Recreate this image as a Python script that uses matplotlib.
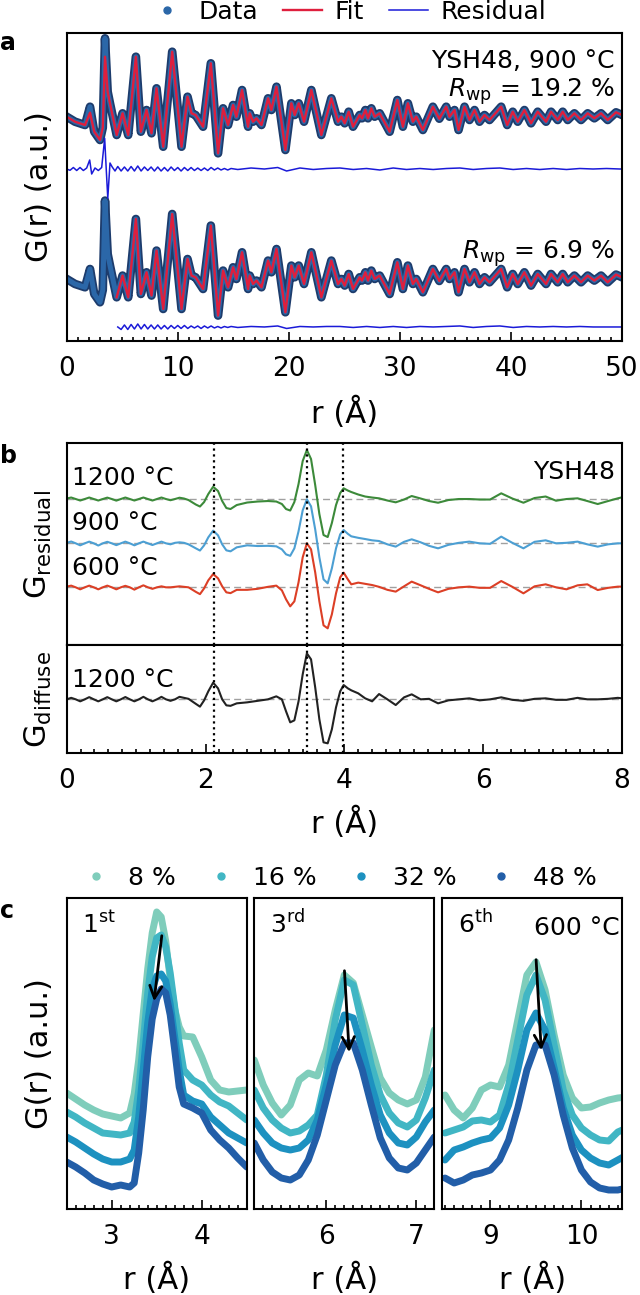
import matplotlib.pyplot as plt
import numpy as np
from matplotlib.lines import Line2D

plt.rcParams['font.family'] = 'DejaVu Sans'
plt.rcParams['mathtext.fontset'] = 'dejavusans'

# ---------------- panel a : YSH48, 900 C, full-range fits ----------------
r_a = [0.0, 0.75, 1.65, 2.1, 2.48, 3.0, 3.25, 3.45, 3.69, 3.9, 4.5, 5.03, 5.54, 6.23, 6.68, 7.19, 7.64,
       8.09, 8.69, 9.5, 10.34, 10.88, 11.24, 11.6, 12.28, 12.98, 13.63, 14.08, 14.53, 14.98, 15.28,
       15.79, 16.33, 16.48, 16.78, 17.09, 17.54, 18.13, 18.43, 18.89, 19.69, 20.23, 20.53, 20.89,
       21.37, 22.03, 22.93, 23.83, 24.43, 24.73, 25.03, 25.39, 25.78, 26.38, 26.59, 26.89, 27.13,
       27.43, 27.73, 28.18, 29.08, 29.77, 30.27, 30.72, 31.17, 31.47, 32.07, 32.97, 33.55, 34.17,
       34.47, 34.92, 35.28, 35.82, 36.27, 36.72, 37.17, 37.62, 38.07, 39.12, 39.66, 40.16, 40.61,
       41.21, 41.81, 42.41, 43.16, 43.61, 44.21, 44.66, 45.11, 45.71, 46.31, 46.91, 47.51, 48.11,
       48.71, 49.46, 50.0]
G_a = [-0.1, -0.6, -0.93, 0.9, -1.6, -2.43, -1.2, 7.74, 2.4, 1.24, -1.93, 0.24, -1.93, 5.9, -1.6,
       0.57, -1.76, 2.74, -3.1, 6.4, -3.1, 1.9, 0.24, 0.07, -1.1, 5.24, -3.76, 0.74, -0.93, 1.07,
       -0.1, 2.57, -1.1, 0.24, -0.6, -0.26, -0.93, 1.74, 0.57, 2.9, -3.43, 1.24, 0.07, 1.24, -0.6,
       2.57, -1.93, 1.74, -0.6, -0.1, -0.76, 0.4, -1.1, 0.07, -0.26, 0.57, -0.26, 0.74, -0.1, 0.24,
       -1.6, 1.57, -1.1, 1.24, -0.6, -0.1, -1.43, 0.9, -0.3, 0.9, -0.1, 0.57, -1.43, 0.9, -0.43,
       0.57, -0.6, 0.07, -0.43, 0.9, -0.93, 0.4, -0.6, 0.57, -0.76, 0.4, -0.6, 0.4, -0.43, 0.4,
       -0.43, 0.24, -0.43, 0.24, -0.26, 0.24, -0.43, 0.34, 0.07]
# where the top fit departs from the data
fit_fix_r = [2.1, 3.45]
fit_fix_G = [0.3, 5.9]
fit_start_bot = 4.5

r_res = [0.0, 0.3, 0.6, 0.9, 1.2, 1.5, 1.8, 2.07, 2.25, 2.55, 2.85, 3.15, 3.42, 3.56, 3.7, 3.9, 4.1,
         4.35, 4.6, 4.9, 5.2, 5.5, 5.8, 6.1, 6.4, 6.7, 7.0, 7.3, 7.6, 7.9, 8.2, 8.5, 8.8, 9.1, 9.4,
         9.7, 10.0, 10.3, 10.6, 10.9, 11.2, 11.5, 11.8, 12.1, 12.4, 12.7, 13.0, 13.3, 13.6, 13.9,
         14.2, 14.5, 14.8, 15.4, 16.6, 17.8, 19.0, 19.8, 21.0, 22.2, 23.4, 24.6, 25.8, 27.0, 28.2,
         29.4, 30.6, 31.8, 33.0, 34.2, 35.4, 36.6, 37.8, 39.0, 40.2, 41.4, 42.6, 43.8, 45.0, 46.2,
         47.4, 48.6, 49.8, 50.0]
res_top = [0.0, -0.13, 0.15, -0.15, 0.15, -0.15, 0.1, 0.9, -0.5, 0.1, -0.15, 0.15, 3.07, 0.0, -2.93,
           0.6, 0.2, -0.2, 0.25, -0.2, 0.2, -0.2, 0.25, -0.2, 0.3, -0.2, 0.2, -0.15, 0.2, -0.2, 0.2,
           -0.2, 0.15, -0.2, 0.2, -0.15, 0.15, -0.2, 0.15, -0.15, 0.15, -0.15, 0.1, -0.15, 0.1,
           -0.15, 0.15, -0.1, 0.1, -0.1, 0.05, -0.1, 0.05, -0.05, 0.1, 0.0, 0.15, -0.2, 0.1, -0.05,
           0.05, 0.1, -0.05, 0.05, -0.1, 0.1, -0.05, 0.05, -0.05, 0.05, 0.1, -0.05, 0.05, 0.1, -0.05,
           0.05, -0.05, 0.05, -0.05, 0.05, 0.0, 0.05, 0.0, 0.0]
nan = np.nan
res_bot = [nan] * 18 + [0.0, -0.25, 0.2, -0.25, 0.25, -0.2, 0.3, -0.2, 0.25, -0.2, 0.2, -0.2, 0.2,
                        -0.2, 0.15, -0.2, 0.15, -0.15, 0.15, -0.15, 0.15, -0.15, 0.1, -0.1, 0.1,
                        -0.15, 0.1, -0.1, 0.1, -0.1, 0.05, -0.1, 0.05, -0.05, 0.05, -0.05, 0.05,
                        0.0, 0.1, -0.15, 0.05, 0.0, 0.05, 0.05, -0.05, 0.05, -0.05, 0.05, -0.05,
                        0.05, 0.0, 0.05, 0.1, -0.05, 0.05, 0.1, -0.05, 0.05, 0.0, 0.05, 0.0, 0.05,
                        0.0, 0.0, 0.0, 0.0]

# ---------------- panel b : residual / diffuse G(r) ----------------
r_b = ([0.0, 0.065, 0.13, 0.195, 0.26, 0.325, 0.39, 0.455, 0.52, 0.585, 0.65, 0.715, 0.78, 0.845,
        0.91, 0.975, 1.04, 1.105, 1.17, 1.235, 1.3, 1.365, 1.43, 1.495, 1.56, 1.625, 1.69, 1.755]
       + [1.86, 1.92, 1.98, 2.04, 2.11, 2.18, 2.24, 2.3, 2.36, 2.45, 2.6, 2.75, 2.9, 3.02, 3.1, 3.16,
          3.22, 3.28, 3.34, 3.4, 3.46, 3.52, 3.58, 3.64, 3.7, 3.76, 3.82, 3.88, 3.94, 3.99, 4.05, 4.1]
       + [4.2, 4.3, 4.4, 4.5, 4.62, 4.74, 4.86, 4.97, 5.1, 5.22, 5.35, 5.5, 5.65, 5.8, 5.95, 6.1,
          6.26, 6.42, 6.58, 6.74, 6.9, 7.05, 7.2, 7.36, 7.5, 7.65, 7.8, 7.94, 8.0])
res_1200 = ([0.5, 1.5, 0, -1.5, 0, 1.5, 0, -1.5, 0, 1.4, 0, -1.6, 0, 1.5, 0, -1.5, 0, 1.5, 0, -1.5,
             0, 1.5, 0, -1.2, 0, 1.3, 0.5, -1.0]
            + [-5.5, -7.5, -3, 5, 12.3, 8, -2, -9, -10, -6, -3.5, -2.5, -2, -2.5, -5, -10, -11.5, -3,
               15, 38, 49, 40, 14, -15, -36, -38, -24, -6, 6, 10.7, 8.5, 7]
            + [4.5, 2.5, 1.5, 0.7, -1.5, -3.3, -0.5, 3.0, 0.5, -2.0, -3.7, -1.0, 0.0, 0.0, -0.5, -0.5,
               5.7, 0.5, -3.7, 1.0, 2.5, -1.7, 0.0, 0.7, -2.0, -5.0, -2.0, 0.7, 1.7])
res_900 = ([0.5, 1.8, 0, -2.0, 0, 1.7, 0, -2.2, 0, 1.5, 0, -1.8, 0, 1.7, 0, -2.0, 0, 1.7, 0, -1.7,
            0, 1.7, 0, -1.0, 0.5, 1.0, 0.5, -1.0]
           + [-5, -7.2, -2, 6, 12.7, 8, -1, -7, -8, -4, -2, -2.7, -2.5, -3, -6, -11, -12.5, -5, 12,
              33, 44, 37, 14, -14, -36, -40, -25, -5, 9, 13.3, 9.5, 7]
           + [5.5, 4.3, 3.0, 2.3, -1.0, -3.3, 1.5, 4.0, 1.0, -2.5, -5.0, -1.5, 0.5, 1.7, 0.0, -0.5,
              6.7, 0.5, -5.0, 1.5, 3.0, 0.0, 0.5, 1.7, -1.0, -3.3, -1.0, 0.0, 0.0])
res_600 = ([0.7, 1.7, 0, -2.0, 0, 1.7, 0, -2.0, 0, 1.7, 0, -2.0, 0, 1.5, 0, -2.3, 0, 2.0, 0, -1.5,
            0, 1.0, 0, 0.0, 0.5, 1.0, 0.5, 0.0]
           + [-4.5, -6.8, -1, 7, 13.3, 9, 1, -5, -5.8, -2.5, -2.5, -1.5, 0.5, 1.7, -3, -12, -19, -14,
              5, 30, 44, 38, 15, -14, -38, -41, -27, -6, 10, 14.7, 8, 3]
           + [4.7, 3.5, 2.3, 0.5, -2.5, -4.3, 1.0, 5.7, 2.0, -1.5, -5.0, -1.5, 0.0, 0.7, -0.5, -0.5,
              6.3, 0.5, -6.0, 1.0, 3.0, 0.0, -2.0, 2.0, 3.0, -2.7, -0.5, 0.7, 0.7])
diff_1200 = ([0, 1.5, 0, -2.0, 0, 2.2, 0, -2.0, 0, 2.2, 0, -2.0, 0, 2.3, 0, -2.0, 0, 2.5, 0, -2.0,
              0, 2.5, 0, -1.5, 0, 2.5, 1.5, 0.5]
             + [-4.5, -7.3, -1, 8, 16.7, 11, 0, -6, -6.5, -4, -3, -1.5, 0, 3.0, 0, -12, -23, -21,
                -2, 25, 46, 40, 12, -20, -43, -44, -30, -8, 8, 14.3, 11, 9]
             + [6.0, 1.0, -2.0, 5.3, 0.0, -5.7, 2.0, 5.0, 0.0, 0.5, -4.0, -1.0, 0.0, 1.0, -1.0, 0.0,
                2.0, -0.5, -1.5, 0.5, 1.0, -0.5, -0.5, 1.5, 0.0, 0.0, 0.5, 1.5, 1.0])
guide_r = [2.12, 3.46, 3.98]

# ---------------- panel c : first, third, sixth shell vs. Sc content ----------------
conc_labels = ['8 %', '16 %', '32 %', '48 %']
conc_colors = ['#7fcdbb', '#41b6c4', '#1d91c0', '#225ea8']

r_c1 = [2.5, 2.6, 2.7, 2.8, 2.9, 3.0, 3.1, 3.2, 3.25, 3.3, 3.35, 3.4, 3.45, 3.5, 3.55, 3.6, 3.65,
        3.7, 3.75, 3.8, 3.9, 4.0, 4.1, 4.2, 4.3, 4.4, 4.5]
c1 = [
    [11.6, 11.0, 10.4, 9.9, 9.5, 9.3, 9.1, 9.6, 11.5, 14.9, 19.5, 24.0, 27.6, 29.7, 29.2, 26.8, 23.0,
     20.0, 18.2, 17.3, 17.2, 15.2, 12.9, 11.9, 11.7, 11.8, 11.9],
    [9.7, 9.2, 8.6, 8.1, 7.6, 7.5, 7.4, 7.6, 8.7, 11.9, 16.6, 21.6, 25.2, 27.1, 27.4, 26.2, 23.6,
     20.2, 16.6, 13.9, 12.9, 12.4, 11.4, 10.7, 10.3, 9.6, 8.9],
    [7.2, 6.7, 6.1, 5.5, 5.0, 4.7, 4.7, 5.0, 5.9, 9.2, 13.9, 18.6, 22.0, 23.3, 23.5, 22.8, 20.5,
     17.2, 13.9, 11.4, 10.8, 10.5, 9.2, 8.4, 7.6, 7.1, 6.6],
    [4.7, 4.2, 3.6, 2.9, 2.5, 2.2, 2.4, 2.2, 2.6, 5.6, 9.9, 15.2, 19.0, 21.0, 22.0, 21.6, 19.4,
     15.9, 12.2, 10.5, 10.1, 9.6, 7.9, 6.9, 6.1, 5.1, 4.2],
]
r_c2 = [5.2, 5.3, 5.4, 5.5, 5.6, 5.7, 5.8, 5.9, 6.0, 6.1, 6.2, 6.3, 6.4, 6.5, 6.6, 6.7, 6.8, 6.9,
        7.0, 7.1, 7.2]
c2 = [
    [14.9, 12.4, 10.6, 9.4, 10.4, 12.9, 13.6, 13.3, 15.9, 19.9, 23.4, 22.6, 19.4, 16.2, 13.1, 11.6,
     10.9, 10.5, 10.9, 13.2, 17.9],
    [11.9, 10.1, 8.9, 8.1, 7.6, 7.8, 8.4, 9.4, 13.4, 18.9, 22.9, 22.4, 18.4, 14.4, 11.4, 9.6, 8.6,
     8.2, 8.9, 11.1, 13.9],
    [8.9, 7.6, 6.6, 6.1, 5.9, 6.1, 6.9, 8.9, 12.4, 16.4, 19.4, 19.1, 15.9, 12.4, 9.4, 7.6, 6.6, 6.4,
     7.2, 8.7, 9.9],
    [6.6, 4.9, 3.7, 3.1, 2.9, 3.4, 4.9, 7.4, 10.9, 14.4, 16.6, 16.6, 13.9, 10.4, 7.1, 5.1, 4.1, 3.9,
     4.6, 5.9, 7.2],
]
r_c3 = [8.5, 8.6, 8.7, 8.8, 8.9, 9.0, 9.1, 9.2, 9.3, 9.4, 9.5, 9.6, 9.7, 9.8, 9.9, 10.0, 10.1,
        10.2, 10.3, 10.4, 10.5]
c3 = [
    [11.4, 9.9, 9.1, 10.1, 11.9, 12.4, 12.2, 14.4, 18.9, 23.4, 24.7, 21.9, 17.4, 13.4, 11.1, 10.1,
     10.2, 10.6, 10.9, 11.1, 11.2],
    [7.6, 7.9, 8.2, 8.8, 8.9, 8.7, 9.4, 12.4, 16.9, 21.4, 23.4, 20.9, 16.4, 11.9, 9.4, 8.1, 7.4, 6.9,
     6.8, 7.7, 8.1],
    [4.9, 5.9, 6.2, 6.6, 6.9, 7.1, 8.1, 10.4, 13.9, 17.9, 19.6, 17.9, 14.1, 10.1, 7.4, 5.9, 5.1, 4.6,
     4.4, 4.9, 5.4],
    [3.1, 2.6, 2.9, 3.4, 3.6, 3.9, 4.9, 6.9, 10.1, 13.9, 16.4, 16.4, 13.4, 9.4, 6.1, 3.9, 2.7, 2.1,
     1.9, 1.9, 2.1],
]
shell_names = [r'1$^{\mathrm{st}}$', r'3$^{\mathrm{rd}}$', r'6$^{\mathrm{th}}$']
# trend arrows (tail r, tail G, head r, head G)
arrows = [(3.56, 27.6, 3.467, 20.5), (6.20, 24.1, 6.256, 15.4), (9.50, 25.2, 9.56, 15.6)]

# ---------------- drawing ----------------
TICK = 19
LAB = 22
TXT = 18
SPW = 1.5


def style(ax, xlim, major, minor):
    ax.set_xlim(*xlim)
    ax.set_xticks(np.arange(np.ceil(xlim[0] / major) * major, xlim[1] + 1e-6, major))
    ax.set_xticks(np.arange(np.ceil(xlim[0] / minor) * minor, xlim[1] + 1e-6, minor), minor=True)
    ax.set_yticks([])
    ax.tick_params(axis='x', which='both', direction='in', width=1.2, labelsize=TICK, pad=11)
    ax.tick_params(axis='x', which='major', length=6.5)
    ax.tick_params(axis='x', which='minor', length=3)
    for s in ax.spines.values():
        s.set_linewidth(SPW)


fig = plt.figure(figsize=(6.4, 12.95), dpi=100)

# panel a
ax = fig.add_axes([0.1042, 0.7367, 0.8677, 0.2378])
r_a = np.array(r_a)
G_a = np.array(G_a)
G_fit = G_a.copy()
for rr, gg in zip(fit_fix_r, fit_fix_G):
    G_fit[np.isclose(r_a, rr)] = gg
G_fit_bot = np.where(r_a >= fit_start_bot, G_a, np.nan)
off_top, off_bot, off_rtop, off_rbot = 0.0, -16.23, -5.33, -21.13
for off, fit in [(off_top, G_fit), (off_bot, G_fit_bot)]:
    ax.plot(r_a, G_a + off, color='#1d3c6c', lw=6.2, solid_joinstyle='round')
    ax.plot(r_a, G_a + off, color='#2b67a8', lw=3.6, solid_joinstyle='round')
    ax.plot(r_a, fit + off, color='#df1f3d', lw=1.7)
ax.plot(r_res, np.array(res_top) + off_rtop, color='#1a1ad8', lw=1.1)
ax.plot(r_res, np.array(res_bot) + off_rbot, color='#1a1ad8', lw=1.1)
ax.set_ylim(-22.53, 8.27)
style(ax, (0, 50), 10, 1)
ax.set_xlabel('r (Å)', fontsize=LAB)
ax.xaxis.set_label_coords(0.5, -0.18)
ax.set_ylabel('G(r) (a.u.)', fontsize=LAB)
ax.yaxis.set_label_coords(-0.023, 0.5)
ax.text(0.987, 0.886, 'YSH48, 900 °C', transform=ax.transAxes, ha='right', va='baseline', fontsize=TXT)
ax.text(0.987, 0.793, r'$R_{\mathrm{wp}}$ = 19.2 %', transform=ax.transAxes, ha='right', va='baseline', fontsize=TXT)
ax.text(0.987, 0.268, r'$R_{\mathrm{wp}}$ = 6.9 %', transform=ax.transAxes, ha='right', va='baseline', fontsize=TXT)
handles = [Line2D([], [], ls='', marker='o', ms=5, color='#2b67a8'),
           Line2D([], [], color='#df1f3d', lw=1.7),
           Line2D([], [], color='#1a1ad8', lw=1.1)]
fig.legend(handles, ['Data', 'Fit', 'Residual'], loc='center', bbox_to_anchor=(0.542, 0.9907), ncol=3,
           frameon=False, fontsize=TXT, handlelength=1.56, handletextpad=0.5, columnspacing=1.0,
           borderaxespad=0, borderpad=0)

# panel b
axb1 = fig.add_axes([0.1042, 0.5019, 0.8677, 0.156])
axb2 = fig.add_axes([0.1042, 0.4185, 0.8677, 0.0834])
base_b = [146.0, 101.7, 57.7]
cols_b = ['#3c8a3a', '#4c9fd3', '#dc3f26']
for base, y, c in zip(base_b, [res_1200, res_900, res_600], cols_b):
    axb1.axhline(base, color='#a0a0a0', lw=1.0, ls=(0, (5, 3)))
    axb1.plot(r_b, np.array(y) + base, color=c, lw=1.5, solid_joinstyle='round')
axb1.set_ylim(0, 202)
axb2.axhline(53.7, color='#a0a0a0', lw=1.0, ls=(0, (5, 3)))
axb2.plot(r_b, np.array(diff_1200) + 53.7, color='#222222', lw=1.5, solid_joinstyle='round')
axb2.set_ylim(0, 108)
for a in (axb1, axb2):
    style(a, (0, 8), 2, 0.2)
    for g in guide_r:
        a.axvline(g, color='k', ls=':', lw=1.6)
axb1.tick_params(axis='x', which='both', length=0, labelbottom=False)
axb1.set_ylabel(r'G$_{\mathrm{residual}}$', fontsize=LAB)
axb1.yaxis.set_label_coords(-0.023, 0.5)
axb2.set_ylabel(r'G$_{\mathrm{diffuse}}$', fontsize=LAB)
axb2.yaxis.set_label_coords(-0.023, 0.5)
axb2.set_xlabel('r (Å)', fontsize=LAB)
axb2.xaxis.set_label_coords(0.5, -0.5)
for yb, s in zip([0.792, 0.569, 0.347], ['1200 °C', '900 °C', '600 °C']):
    axb1.text(0.009, yb, s, transform=axb1.transAxes, va='baseline', fontsize=TXT)
axb1.text(0.987, 0.82, 'YSH48', transform=axb1.transAxes, ha='right', va='baseline', fontsize=TXT)
axb2.text(0.009, 0.614, '1200 °C', transform=axb2.transAxes, va='baseline', fontsize=TXT)

# panel c
lefts = [0.1042, 0.3973, 0.6911]
xlims = [(2.5, 4.5), (5.2, 7.2), (8.47, 10.45)]
for i, (rs, curves) in enumerate([(r_c1, c1), (r_c2, c2), (r_c3, c3)]):
    axc = fig.add_axes([lefts[i], 0.0664, 0.2813, 0.2402])
    for y, c in zip(curves, conc_colors):
        axc.plot(rs, y, color=c, lw=5, solid_joinstyle='round', solid_capstyle='round')
    axc.set_ylim(0, 31.1)
    style(axc, xlims[i], 1, 0.1)
    axc.set_xlabel('r (Å)', fontsize=LAB)
    axc.xaxis.set_label_coords(0.5, -0.174)
    x0, y0, x1, y1 = arrows[i]
    axc.annotate('', xy=(x1, y1), xytext=(x0, y0),
                 arrowprops=dict(arrowstyle='->', color='k', lw=2, mutation_scale=22))
    axc.text(0.085, 0.887, shell_names[i], transform=axc.transAxes, va='baseline', fontsize=TXT)
    if i == 0:
        axc.set_ylabel('G(r) (a.u.)', fontsize=LAB)
        axc.yaxis.set_label_coords(-0.0706, 0.5)
    if i == 2:
        axc.text(0.987, 0.881, '600 °C', transform=axc.transAxes, ha='right', va='baseline', fontsize=TXT)
handles = [Line2D([], [], ls='', marker='o', ms=5, color=c) for c in conc_colors]
fig.legend(handles, conc_labels, loc='center', bbox_to_anchor=(0.526, 0.322), ncol=4, frameon=False,
           fontsize=TXT, handlelength=1.56, handletextpad=0.5, columnspacing=1.0,
           borderaxespad=0, borderpad=0)

for lab, yf in [('a', 0.9614), ('b', 0.6425), ('c', 0.2911)]:
    fig.text(0.0, yf, lab, fontsize=17, fontweight='bold', va='baseline', ha='left')

fig.savefig('out.png', dpi=100)
